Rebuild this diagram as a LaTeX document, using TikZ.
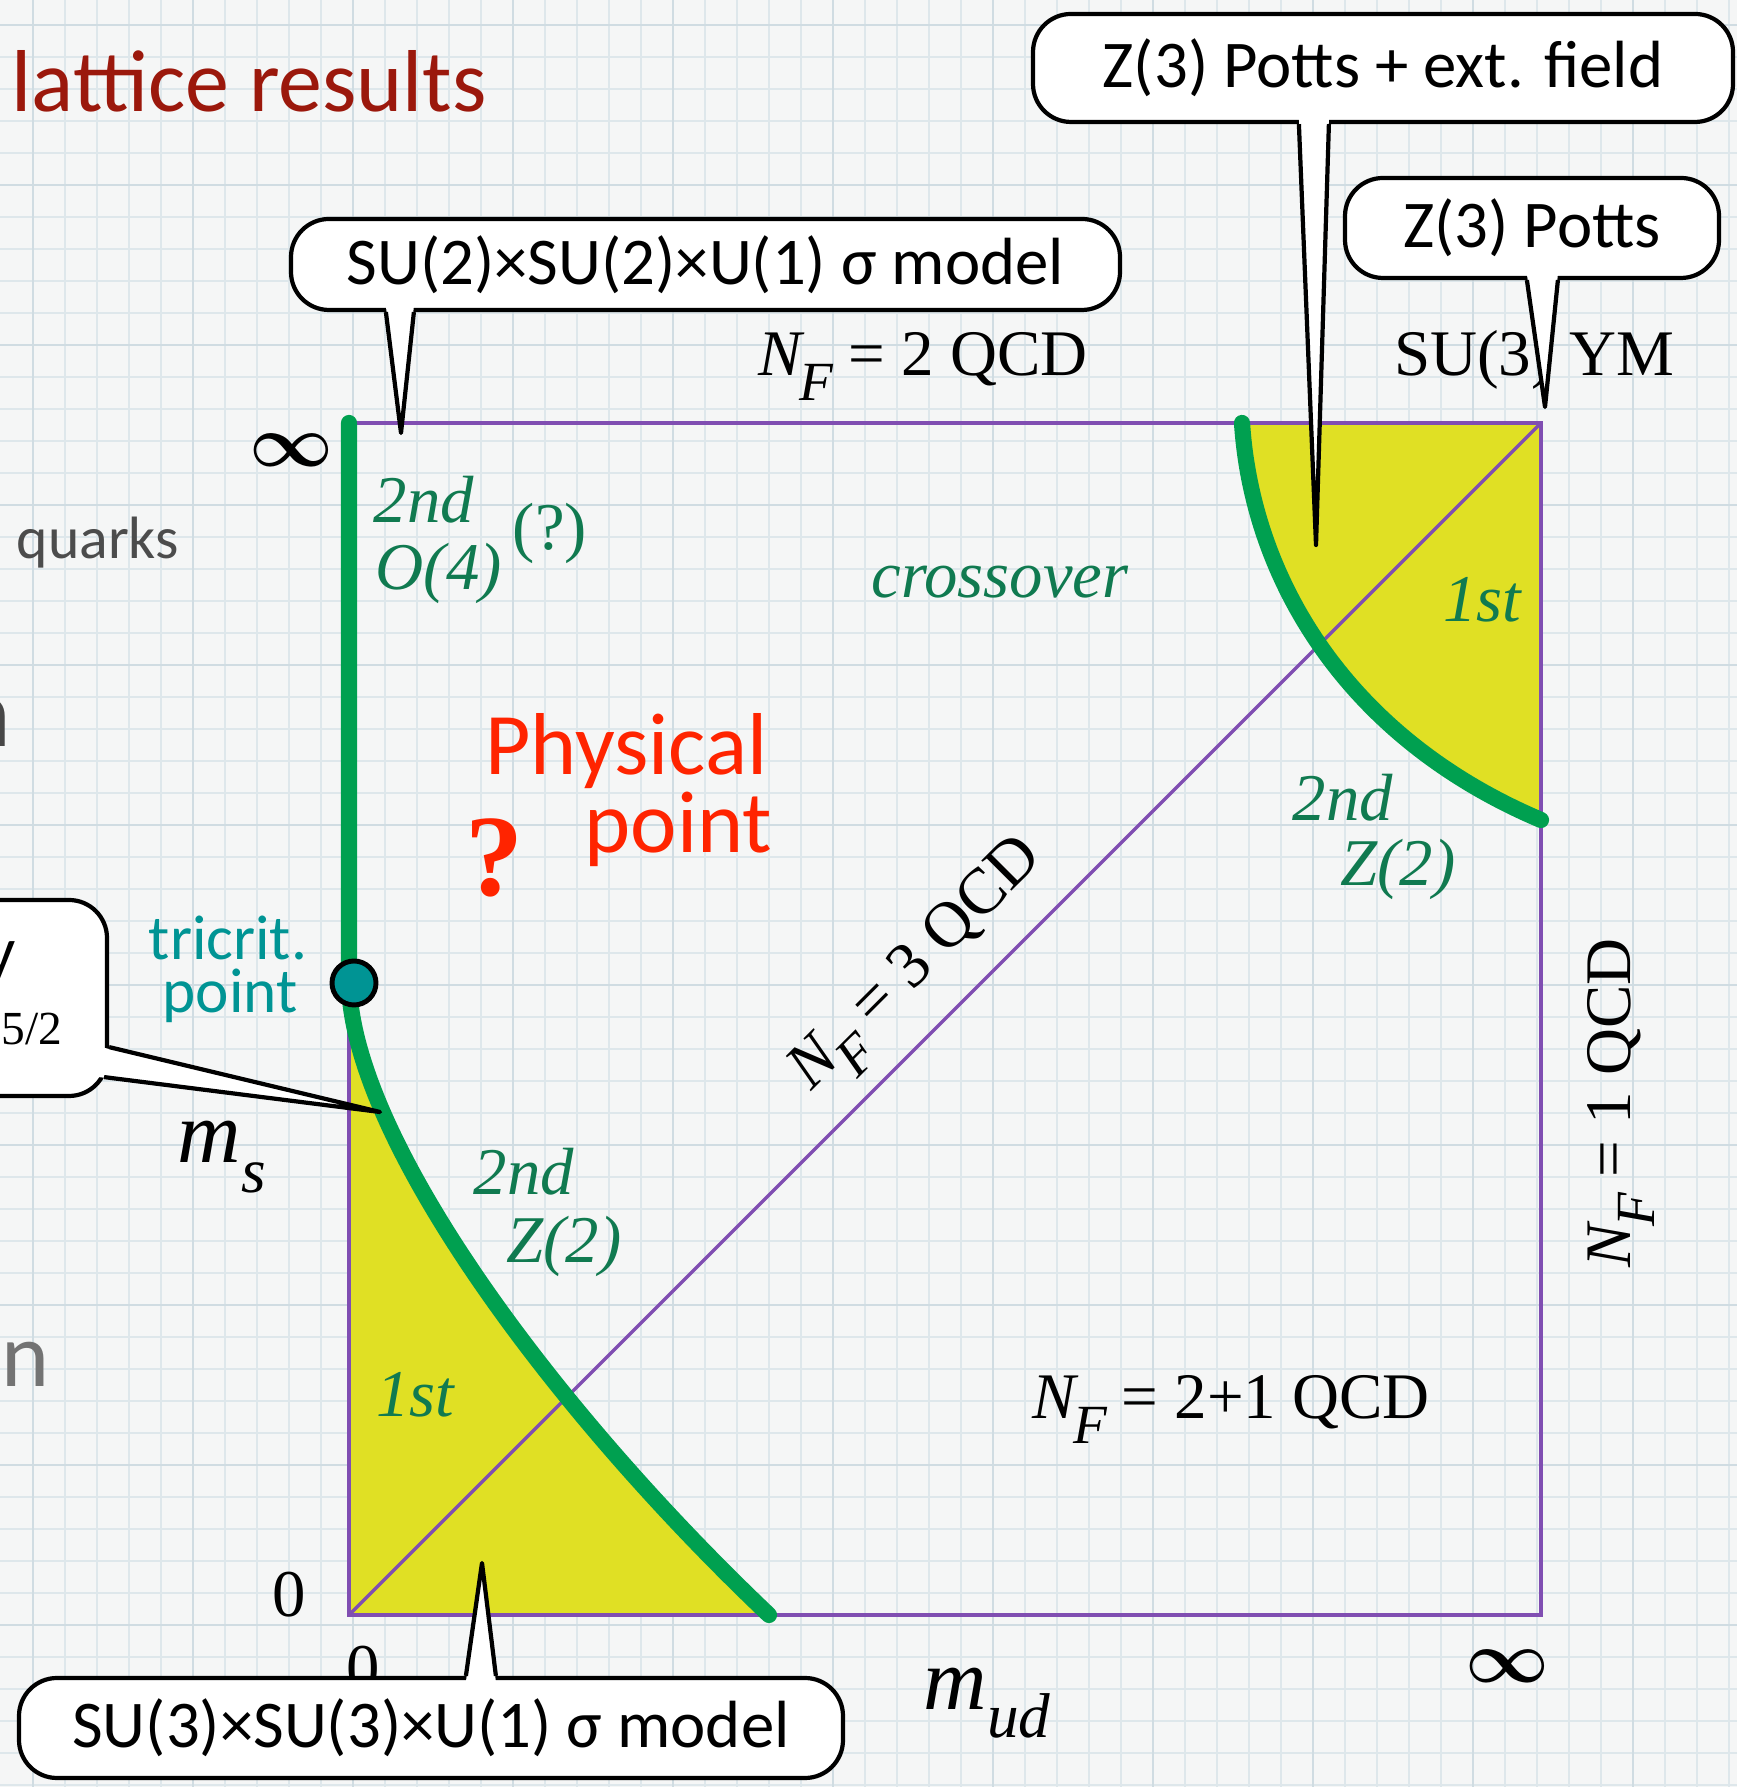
\documentclass[tikz,border=0pt]{standalone}
\usepackage{fontspec}
\setmainfont{Liberation Serif}
\newfontfamily\gillfont{Carlito}
\usetikzlibrary{calc}

\definecolor{paper}{RGB}{245,246,246}
\definecolor{gridminor}{RGB}{222,231,235}
\definecolor{gridmajor}{RGB}{208,220,226}
\definecolor{boundary}{RGB}{128,78,178}
\definecolor{critgreen}{RGB}{0,160,80}
\definecolor{firstyellow}{RGB}{224,224,36}
\definecolor{ordergreen}{RGB}{16,122,80}
\definecolor{tealpoint}{RGB}{0,148,148}
\definecolor{physred}{RGB}{255,36,0}
\definecolor{titlered}{RGB}{155,24,12}

\newcommand{\NF}{\textit{N}\kern-0.08em\raisebox{-0.37em}{\scalebox{0.85}{\textit{F}}}\kern0.22em}

\tikzset{
  callout/.style={draw, line width=1.2pt, fill=white, rounded corners=0.38cm,
    inner sep=0pt, font=\gillfont\fontsize{19}{21}\selectfont},
  qcd/.style={font=\fontsize{18.5}{20}\selectfont, inner sep=0pt},
  order/.style={font=\itshape\fontsize{19}{20}\selectfont, text=ordergreen, inner sep=0pt},
  infinity/.style={font=\fontsize{22}{22}\selectfont\boldmath, inner sep=0pt},
  critline/.style={critgreen, line width=4.6pt, line cap=round},
  boundaryline/.style={boundary, line width=1.2pt},
}

\begin{document}
\begin{tikzpicture}

% --- Page and grid paper ---
\useasboundingbox (0,0) rectangle (17.37,17.87);
\fill[paper] (0,0) rectangle (17.37,17.87);
\foreach \i in {0,...,53} {
  \pgfmathsetmacro{\gx}{0.33+0.32*\i}
  \draw[gridminor, line width=0.6pt] (\gx,0) -- (\gx,17.87);
}
\foreach \i in {0,...,55} {
  \pgfmathsetmacro{\gy}{17.62-0.32*\i}
  \draw[gridminor, line width=0.6pt] (0,\gy) -- (17.37,\gy);
}
\foreach \i in {0,5,...,50} {
  \draw[gridmajor, line width=0.8pt] ({0.33+0.32*\i},0) -- ({0.33+0.32*\i},17.87);
  \draw[gridmajor, line width=0.8pt] (0,{17.62-0.32*\i}) -- (17.37,{17.62-0.32*\i});
}

% --- Slide text ---
\node[font=\gillfont\fontsize{25}{28}\selectfont, text=titlered, anchor=base west, inner sep=0pt]
  (title) at (0.11,16.75) {lattice results};
\node[font=\gillfont\fontsize{17}{20}\selectfont, text=black!70, anchor=base west, inner sep=0pt]
  (quarks) at (0.16,12.28) {quarks};
\node[font=\gillfont\fontsize{28}{30}\selectfont, text=black!72, anchor=base east, inner sep=0pt]
  (wordn) at (0.12,10.40) {n};
\node[font=\gillfont\fontsize{26}{30}\selectfont, text=black!55, anchor=base east, inner sep=0pt]
  (wordon) at (0.50,4.00) {on};

% --- First order regions ---
\coordinate (origin) at (3.49,1.72);
\coordinate (corner) at (15.41,13.64);
\fill[firstyellow] (3.49,8.04) .. controls (3.52,6.5) and (5.5,3.8) .. (7.69,1.72)
  -- (origin) -- cycle;
\fill[firstyellow] (12.42,13.64) .. controls (12.52,12.1) and (13.45,10.5) .. (15.41,9.67)
  -- (corner) -- cycle;

% --- Columbia plot frame ---
\draw[boundaryline] (origin) rectangle (corner);
\draw[boundary, line width=1pt] (origin) -- (corner);

% --- Critical lines ---
\draw[critline] (3.49,13.64) -- (3.49,8.04)
  .. controls (3.52,6.5) and (5.5,3.8) .. (7.69,1.72);
\draw[critline] (12.42,13.64) .. controls (12.52,12.1) and (13.45,10.5) .. (15.41,9.67);
\node[circle, fill=tealpoint, draw=black, line width=1.4pt, minimum size=0.44cm, inner sep=0pt]
  (tripoint) at (3.54,8.04) {};

% --- Axes labels ---
\node[infinity] (inftop) at (2.91,13.37) {$\infty$};
\node[infinity] (infright) at (15.07,1.21) {$\infty$};
\node[font=\fontsize{19}{19}\selectfont, inner sep=0pt] (zeroy) at (2.89,1.92) {0};
\node[font=\fontsize{19}{19}\selectfont, inner sep=0pt] (zerox) at (3.63,1.18) {0};
\node[anchor=base west, inner sep=0pt] (msaxis) at (1.77,6.24)
  {{\fontsize{25}{25}\selectfont\textit{m}}\raisebox{-0.3cm}{\fontsize{18}{18}\selectfont\textit{s}}};
\node[anchor=base west, inner sep=0pt] (mudaxis) at (9.23,0.77)
  {{\fontsize{25}{25}\selectfont\textit{m}}\raisebox{-0.28cm}{\fontsize{18}{18}\selectfont\textit{ud}}};

% --- Flavour labels ---
\node[qcd, anchor=base] (nf2) at (9.23,14.11) {\NF= 2 QCD};
\node[qcd, anchor=base] (ym) at (15.34,14.11) {SU(3) YM};
\node[qcd, rotate=45] (nf3) at (9.21,8.18) {\NF= 3 QCD};
\node[qcd, rotate=90] (nf1) at (16.21,6.84) {\NF= 1 QCD};
\node[qcd, anchor=base] (nf21) at (12.31,3.68) {\NF= 2+1 QCD};

% --- Order of the transition ---
\node[order, anchor=base west] (secondA) at (3.73,12.64) {2nd};
\node[order, anchor=base west] (otwo) at (3.75,11.97) {O(4)};
\node[order, font=\fontsize{19}{20}\selectfont] (unsure) at (5.50,12.54) {(?)};
\node[order, anchor=base] (cross) at (10.00,11.89) {crossover};
\node[order, anchor=base] (firstA) at (14.82,11.65) {1st};
\node[order, anchor=base] (secondB) at (13.43,9.66) {2nd};
\node[order, anchor=base] (ztwoB) at (13.98,9.01) {Z(2)};
\node[order, anchor=base] (secondC) at (5.24,5.92) {2nd};
\node[order, anchor=base] (ztwoC) at (5.64,5.24) {Z(2)};
\node[order, anchor=base] (firstB) at (4.15,3.70) {1st};

% --- Tricritical and physical point ---
\node[font=\gillfont\fontsize{18}{18}\selectfont, text=tealpoint, anchor=base, inner sep=0pt]
  (tricrit) at (2.28,8.27) {tricrit.};
\node[font=\gillfont\fontsize{18}{18}\selectfont, text=tealpoint, anchor=base, inner sep=0pt]
  (tripointtext) at (2.30,7.74) {point};
\node[font=\gillfont\fontsize{25}{25}\selectfont, text=physred, anchor=base east, inner sep=0pt]
  (physA) at (7.68,10.12) {Physical};
\node[font=\gillfont\fontsize{25}{25}\selectfont, text=physred, anchor=base east, inner sep=0pt]
  (physB) at (7.73,9.34) {point};
\node[font=\bfseries\fontsize{33}{33}\selectfont, text=physred, inner sep=0pt]
  (physq) at (4.94,9.29) {?};

% --- Callouts ---
\node[callout, minimum width=8.29cm, minimum height=0.91cm] (su2box) at (7.055,15.225)
  {SU(2)×SU(2)×U(1) σ model};
\node[callout, minimum width=7.0cm, minimum height=1.08cm] (pottsfield) at (13.83,17.19)
  {Z(3) Potts + ext. field};
\node[callout, minimum width=3.74cm, minimum height=1.0cm] (potts) at (15.32,15.59)
  {Z(3) Potts};
\node[callout, minimum width=8.24cm, minimum height=1.0cm] (su3box) at (4.31,0.59)
  {SU(3)×SU(3)×U(1) σ model};
\node[callout, minimum width=2.27cm, minimum height=1.96cm] (leftbox) at (-0.065,7.89) {};
\node[font=\gillfont\fontsize{19}{19}\selectfont, anchor=base east, inner sep=0pt]
  (leftfrag) at (0.16,8.13) {y};
\node[font=\fontsize{13.5}{14}\selectfont, anchor=base east, inner sep=0pt]
  (fivehalf) at (0.63,7.42) {5/2};

% --- Callout pointers ---
\coordinate (su2tip) at (4.01,13.54);
\coordinate (fieldtip) at (13.16,12.42);
\coordinate (pottstip) at (15.45,13.80);
\coordinate (su3tip) at (4.82,2.24);
\coordinate (lefttip) at (3.80,6.75);

\foreach \bx/\ba/\bb/\tip in {su2box/0.97/1.25/su2tip, pottsfield/2.68/2.98/fieldtip,
                              potts/1.84/2.15/pottstip} {
  \fill[white] ($(\bx.south west)+(\ba,0.06)$) -- (\tip) -- ($(\bx.south west)+(\bb,0.06)$) -- cycle;
  \draw[line width=1.2pt, line join=round] ($(\bx.south west)+(\ba,0)$) -- (\tip)
    -- ($(\bx.south west)+(\bb,0)$);
}
\fill[white] ($(su3box.north west)+(4.49,-0.06)$) -- (su3tip) -- ($(su3box.north west)+(4.79,-0.06)$) -- cycle;
\draw[line width=1.2pt, line join=round] ($(su3box.north west)+(4.49,0)$) -- (su3tip)
  -- ($(su3box.north west)+(4.79,0)$);
\fill[white] ($(leftbox.south east)+(-0.08,0.51)$) -- (lefttip) -- ($(leftbox.south east)+(-0.1,0.21)$) -- cycle;
\draw[line width=1.2pt, line join=round] ($(leftbox.south east)+(0,0.51)$) -- (lefttip)
  -- ($(leftbox.south east)+(-0.05,0.21)$);

\end{tikzpicture}
\end{document}
